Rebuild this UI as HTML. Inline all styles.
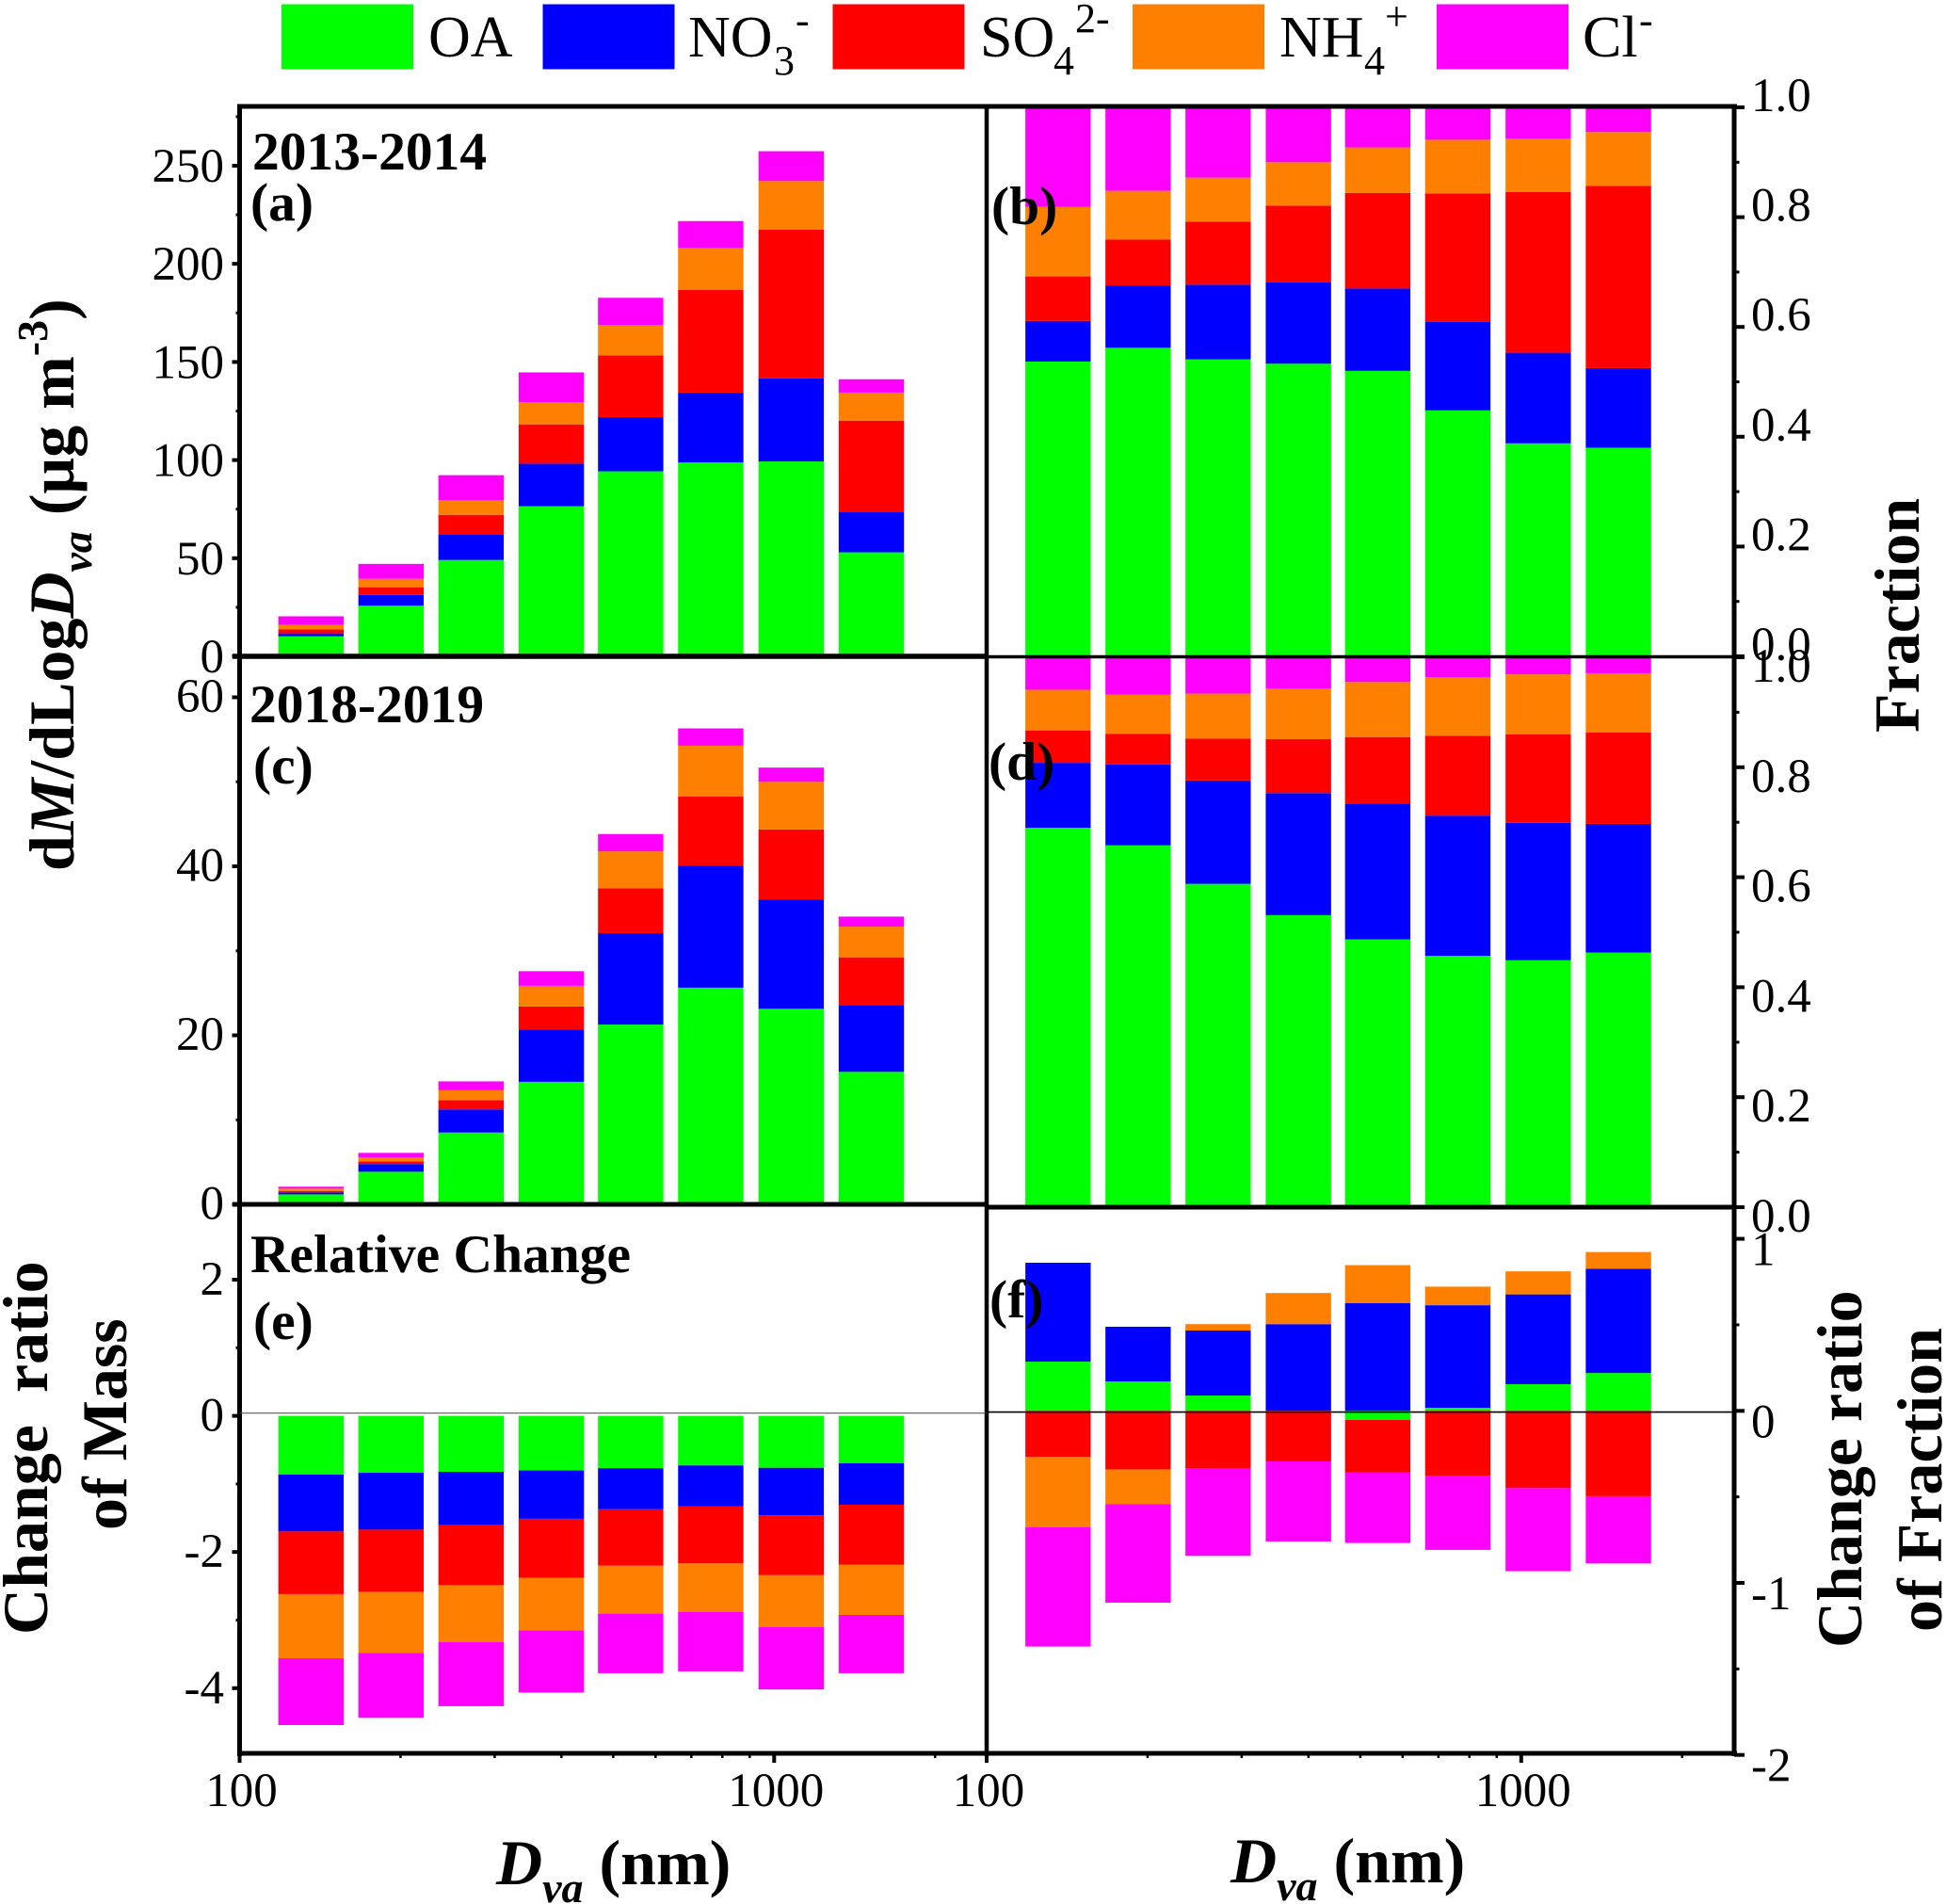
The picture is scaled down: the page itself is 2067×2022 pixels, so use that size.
<!DOCTYPE html>
<html lang="en">
<head>
<meta charset="utf-8">
<title>Size-resolved aerosol composition, 2013-2014 and 2018-2019</title>
<style>
  html, body { margin: 0; padding: 0; background: #ffffff; }
  svg { display: block; }
  text { font-family: "Liberation Serif", serif; fill: #000000; }
  .tick-label { font-size: 51px; }
  .legend-label { font-size: 62px; }
  .panel-note { font-size: 57.5px; font-weight: bold; }
  .axis-title { font-size: 68px; font-weight: bold; }
</style>
</head>
<body>
<svg id="chart" xmlns="http://www.w3.org/2000/svg" width="2067" height="2022" viewBox="0 0 2067 2022">
  <rect x="0" y="0" width="2067" height="2022" fill="#ffffff"/>

  <g id="legend">
    <rect x="299" y="4.5" width="140" height="69" fill="#00ff00"/>
    <text class="legend-label" x="455" y="60">OA</text>
    <rect x="576.5" y="4.5" width="140" height="69" fill="#0000ff"/>
    <text class="legend-label"><tspan x="731" y="60">NO</tspan><tspan x="822" y="79" font-size="44">3</tspan><tspan x="845" y="36" font-size="44">-</tspan></text>
    <rect x="884.5" y="4.5" width="140" height="69" fill="#ff0000"/>
    <text class="legend-label"><tspan x="1041" y="60">SO</tspan><tspan x="1119" y="79" font-size="44">4</tspan><tspan x="1142" y="34" font-size="44">2-</tspan></text>
    <rect x="1203" y="4.5" width="140" height="69" fill="#ff8000"/>
    <text class="legend-label"><tspan x="1359" y="60">NH</tspan><tspan x="1449" y="79" font-size="44">4</tspan><tspan x="1471" y="32" font-size="44">+</tspan></text>
    <rect x="1526" y="4.5" width="140" height="69" fill="#ff00ff"/>
    <text class="legend-label"><tspan x="1681" y="60">Cl</tspan><tspan x="1741" y="36" font-size="44">-</tspan></text>
  </g>

  <g id="bars"></g>
  <g id="ticks"></g>

  <g id="frame" stroke="#000000" fill="none">
    <line x1="252" y1="113" x2="1845" y2="113" stroke-width="5"/>
    <line x1="254.5" y1="111" x2="254.5" y2="1865" stroke-width="5"/>
    <line x1="1048" y1="111" x2="1048" y2="1865" stroke-width="4.5"/>
    <line x1="1842" y1="111" x2="1842" y2="1865" stroke-width="5"/>
    <line x1="247" y1="697" x2="1048" y2="697" stroke-width="5.5"/>
    <line x1="1048" y1="697.5" x2="1842" y2="697.5" stroke-width="3.5"/>
    <line x1="247" y1="1279" x2="1048" y2="1279" stroke-width="5"/>
    <line x1="1048" y1="1282" x2="1842" y2="1282" stroke-width="5"/>
    <line x1="252" y1="1862" x2="1845" y2="1862" stroke-width="5"/>
    <line x1="254.5" y1="1500.7" x2="1048" y2="1500.7" stroke-width="1" stroke="#444444"/>
    <line x1="1048" y1="1499.6" x2="1842" y2="1499.6" stroke-width="1.6"/>
  </g>

  <g id="tick-labels"></g>

  <g id="notes">
    <text class="panel-note" x="268" y="180">2013-2014</text>
    <text class="panel-note" x="266" y="234">(a)</text>
    <text class="panel-note" x="1053" y="238">(b)</text>
    <text class="panel-note" x="265" y="767">2018-2019</text>
    <text class="panel-note" x="269" y="832">(c)</text>
    <text class="panel-note" x="1050" y="828">(d)</text>
    <text class="panel-note" x="266" y="1351">Relative Change</text>
    <text class="panel-note" x="269" y="1422">(e)</text>
    <text class="panel-note" x="1051" y="1399">(f)</text>
  </g>

  <g id="titles">
    <text class="axis-title" transform="translate(78,925) rotate(-90)">d<tspan font-style="italic">M</tspan>/dLog<tspan font-style="italic">D</tspan><tspan font-style="italic" font-size="46" dy="19">va</tspan><tspan dy="-19"> (μg m</tspan><tspan font-size="46" dy="-28">-3</tspan><tspan dy="28">)</tspan></text>
    <text class="axis-title" transform="translate(2038,778) rotate(-90)">Fraction</text>
    <text class="axis-title" xml:space="preserve" style="white-space:pre" transform="translate(50,1736) rotate(-90)">Change  ratio</text>
    <text class="axis-title" transform="translate(134,1625) rotate(-90)">of Mass</text>
    <text class="axis-title" transform="translate(1977,1750) rotate(-90)">Change ratio</text>
    <text class="axis-title" transform="translate(2062,1733) rotate(-90)">of Fraction</text>
    <text class="axis-title" x="527" y="2001"><tspan font-style="italic">D</tspan><tspan font-style="italic" font-size="46" dy="19">va</tspan><tspan dy="-19"> (nm)</tspan></text>
    <text class="axis-title" x="1307" y="1999"><tspan font-style="italic">D</tspan><tspan font-style="italic" font-size="46" dy="19">va</tspan><tspan dy="-19"> (nm)</tspan></text>
  </g>
</svg>

<script>
/* ---------- data ---------- */
const diameters = [136, 192, 271, 383, 539, 761, 1076, 1520];
const seriesNames = ['oa', 'no3', 'so4', 'nh4', 'cl'];

const massOa2013  = [10.2, 25.8, 49.1, 76.5, 94.3, 98.8, 99.3, 53.0];
const massNo32013 = [1.5, 5.5, 12.8, 21.7, 27.6, 35.6, 42.3, 20.4];
const massSo42013 = [2.0, 3.9, 10.2, 20.0, 31.4, 52.4, 75.8, 46.7];
const massNh42013 = [2.4, 4.3, 7.4, 11.3, 15.5, 21.3, 24.8, 14.3];
const massCl2013  = [4.3, 7.6, 12.8, 15.2, 13.9, 13.7, 15.2, 6.8];

const fracOa2013  = [0.537, 0.562, 0.541, 0.533, 0.520, 0.448, 0.388, 0.380];
const fracNo32013 = [0.074, 0.113, 0.136, 0.148, 0.150, 0.161, 0.165, 0.145];
const fracSo42013 = [0.081, 0.084, 0.115, 0.140, 0.174, 0.234, 0.293, 0.332];
const fracNh42013 = [0.127, 0.089, 0.080, 0.079, 0.083, 0.098, 0.097, 0.098];
const fracCl2013  = [0.181, 0.152, 0.128, 0.100, 0.073, 0.059, 0.057, 0.045];

const massOa2018  = [1.18, 3.86, 8.50, 14.50, 21.27, 25.64, 23.14, 15.68];
const massNo32018 = [0.23, 0.91, 2.73, 6.18, 10.82, 14.41, 12.91, 7.91];
const massSo42018 = [0.18, 0.32, 1.09, 2.73, 5.32, 8.22, 8.31, 5.64];
const massNh42018 = [0.27, 0.46, 1.18, 2.45, 4.36, 6.00, 5.64, 3.63];
const massCl2018  = [0.23, 0.54, 1.05, 1.73, 2.05, 2.05, 1.68, 1.19];

const fracOa2018  = [0.690, 0.658, 0.588, 0.531, 0.487, 0.457, 0.449, 0.463];
const fracNo32018 = [0.118, 0.147, 0.188, 0.222, 0.247, 0.255, 0.250, 0.234];
const fracSo42018 = [0.059, 0.056, 0.076, 0.098, 0.121, 0.145, 0.161, 0.166];
const fracNh42018 = [0.074, 0.071, 0.082, 0.092, 0.100, 0.107, 0.109, 0.108];
const fracCl2018  = [0.059, 0.068, 0.066, 0.057, 0.045, 0.036, 0.031, 0.029];

const changeMassOa  = [-0.862, -0.836, -0.822, -0.802, -0.769, -0.729, -0.763, -0.696];
const changeMassNo3 = [-0.836, -0.835, -0.783, -0.710, -0.604, -0.597, -0.696, -0.610];
const changeMassSo4 = [-0.921, -0.915, -0.882, -0.869, -0.829, -0.842, -0.882, -0.882];
const changeMassNh4 = [-0.942, -0.895, -0.835, -0.769, -0.703, -0.710, -0.762, -0.736];
const changeMassCl  = [-0.981, -0.955, -0.942, -0.915, -0.875, -0.875, -0.916, -0.856];

const changeFracOa  = [0.286, 0.171, 0.089, 0.000, -0.052, 0.018, 0.155, 0.220];
const changeFracNo3 = [0.575, 0.318, 0.378, 0.504, 0.627, 0.596, 0.522, 0.606];
const changeFracSo4 = [-0.268, -0.341, -0.336, -0.294, -0.307, -0.378, -0.449, -0.496];
const changeFracNh4 = [-0.409, -0.202, 0.037, 0.181, 0.220, 0.108, 0.134, 0.097];
const changeFracCl  = [-0.693, -0.572, -0.507, -0.465, -0.409, -0.430, -0.483, -0.391];

const ticksMass2013 = [0, 50, 100, 150, 200, 250];
const minorMass2013 = [25, 75, 125, 175, 225, 275];
const ticksMass2018 = [0, 20, 40, 60];
const minorMass2018 = [10, 30, 50];
const ticksFraction = [0, 0.2, 0.4, 0.6, 0.8, 1];
const labelsFraction = ['0.0', '0.2', '0.4', '0.6', '0.8', '1.0'];
const minorFraction = [0.1, 0.3, 0.5, 0.7, 0.9];
const ticksChangeMass = [-4, -2, 0, 2];
const minorChangeMass = [-3, -1, 1];
const ticksChangeFrac = [-2, -1, 0, 1];
const minorChangeFrac = [-1.5, -0.5, 0.5];
const xMajorTicks = [100, 1000];
const xMinorTicks = [200, 300, 400, 500, 600, 700, 800, 900, 2000];

/* ---------- drawing ---------- */
const SVG_NS = 'http://www.w3.org/2000/svg';
const barsLayer = document.getElementById('bars');
const ticksLayer = document.getElementById('ticks');
const labelsLayer = document.getElementById('tick-labels');
const seriesColors = ['#00ff00', '#0000ff', '#ff0000', '#ff8000', '#ff00ff'];
const DECADE_PX = 567.8;
const BAR_WIDTH = 69.4;

function shape(tag, attrs, parent) {
  const node = document.createElementNS(SVG_NS, tag);
  for (const key in attrs) node.setAttribute(key, attrs[key]);
  parent.appendChild(node);
  return node;
}
function xScale(diameter, left) {
  return left + (Math.log10(diameter) - 2) * DECADE_PX;
}
function yScale(panel, value) {
  return panel.zero - value * panel.unit;
}

function drawBars(panel, series) {
  diameters.forEach(function (diameter, i) {
    let up = 0;
    let down = 0;
    series.forEach(function (values, s) {
      const v = values[i];
      if (v === 0) return;
      const from = v > 0 ? up : down;
      const to = from + v;
      if (v > 0) up = to; else down = to;
      const y1 = yScale(panel, Math.max(from, to));
      const y2 = yScale(panel, Math.min(from, to));
      const el = shape('rect', {
        x: xScale(diameter, panel.left) - BAR_WIDTH / 2,
        y: y1,
        width: BAR_WIDTH,
        height: y2 - y1,
        fill: seriesColors[s]
      }, barsLayer);
      
      
    });
  });
}

function drawYAxis(panel, ticks, labels, minors) {
  const dir = panel.side === 'right' ? 1 : -1;
  ticks.forEach(function (value, i) {
    const y = yScale(panel, value);
    const tick = shape('line', {
      x1: panel.axisX, y1: y, x2: panel.axisX + dir * panel.tickLen, y2: y,
      stroke: '#000', 'stroke-width': 4
    }, ticksLayer);
    
    
    const label = shape('text', {
      x: panel.labelX, y: y + panel.labelDy, class: 'tick-label',
      'text-anchor': panel.side === 'right' ? 'start' : 'end'
    }, labelsLayer);
    label.textContent = labels[i];
    
    
  });
  minors.forEach(function (value) {
    const y = yScale(panel, value);
    const tick = shape('line', {
      x1: panel.axisX, y1: y, x2: panel.axisX + dir * panel.tickLen * 0.5, y2: y,
      stroke: '#000', 'stroke-width': 3
    }, ticksLayer);
    
    
  });
}

function drawXAxis(left, side) {
  xMajorTicks.forEach(function (value) {
    const x = xScale(value, left);
    const tick = shape('line', { x1: x, y1: 1862, x2: x, y2: 1872, stroke: '#000', 'stroke-width': 4 }, ticksLayer);
    
    
    const label = shape('text', { x: x + 2, y: 1918, class: 'tick-label', 'text-anchor': 'middle' }, labelsLayer);
    label.textContent = String(value);
    
    
  });
  xMinorTicks.forEach(function (value) {
    const x = xScale(value, left);
    const tick = shape('line', { x1: x, y1: 1862, x2: x, y2: 1867, stroke: '#000', 'stroke-width': 2.5 }, ticksLayer);
    
    
  });
}

const panelA = { id: 'a', left: 254.5, zero: 697, unit: 2.084, side: 'left', axisX: 254.5, tickLen: 8, labelX: 238, labelDy: 17 };
const panelB = { id: 'b', left: 1048, zero: 697, unit: 583, side: 'right', axisX: 1842, tickLen: 11, labelX: 1860, labelDy: 4 };
const panelC = { id: 'c', left: 254.5, zero: 1279, unit: 8.975, side: 'left', axisX: 254.5, tickLen: 8, labelX: 238, labelDy: 15.5 };
const panelD = { id: 'd', left: 1048, zero: 1282, unit: 584, side: 'right', axisX: 1842, tickLen: 11, labelX: 1860, labelDy: 26 };
const panelE = { id: 'e', left: 254.5, zero: 1503.6, unit: 72.3, side: 'left', axisX: 254.5, tickLen: 8, labelX: 238, labelDy: 16 };
const panelF = { id: 'f', left: 1048, zero: 1498.3, unit: 182.7, side: 'right', axisX: 1842, tickLen: 11, labelX: 1860, labelDy: 28 };

drawBars(panelA, [massOa2013, massNo32013, massSo42013, massNh42013, massCl2013]);
drawBars(panelB, [fracOa2013, fracNo32013, fracSo42013, fracNh42013, fracCl2013]);
drawBars(panelC, [massOa2018, massNo32018, massSo42018, massNh42018, massCl2018]);
drawBars(panelD, [fracOa2018, fracNo32018, fracSo42018, fracNh42018, fracCl2018]);
drawBars(panelE, [changeMassOa, changeMassNo3, changeMassSo4, changeMassNh4, changeMassCl]);
drawBars(panelF, [changeFracOa, changeFracNo3, changeFracSo4, changeFracNh4, changeFracCl]);

drawYAxis(panelA, ticksMass2013, ticksMass2013.map(String), minorMass2013);
drawYAxis(panelB, ticksFraction, labelsFraction, minorFraction);
drawYAxis(panelC, ticksMass2018, ticksMass2018.map(String), minorMass2018);
drawYAxis(panelD, ticksFraction, labelsFraction, minorFraction);
drawYAxis(panelE, ticksChangeMass, ticksChangeMass.map(String), minorChangeMass);
drawYAxis(panelF, ticksChangeFrac, ticksChangeFrac.map(String), minorChangeFrac);

drawXAxis(254.5, 'left');
drawXAxis(1048, 'right');
</script>
</body>
</html>
